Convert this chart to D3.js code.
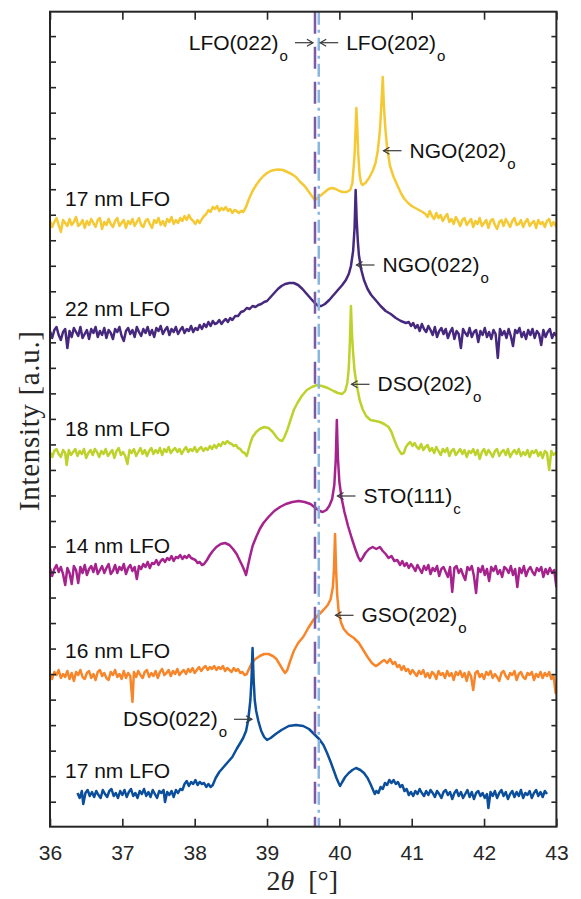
<!DOCTYPE html>
<html>
<head>
<meta charset="utf-8">
<script src="https://cdn.jsdelivr.net/npm/d3@7"></script>
<style>
  body { margin: 0; background: #fff; }
  text { font-family: "Liberation Sans", Arial, sans-serif; }
</style>
</head>
<body>
<svg id="chart" width="581" height="899"></svg>
<script>
// ---- data ----
var xTicks = [36, 37, 38, 39, 40, 41, 42, 43];
var samples = ["17 nm LFO", "22 nm LFO", "18 nm LFO", "14 nm LFO", "16 nm LFO", "17 nm LFO"];
var colors = ["#f4c934", "#46297e", "#bdd22b", "#a6238e", "#f7862a", "#0b4f9c"];
// vertical offset of every scan (a.u.)
var offsets = [603.7, 493.7, 373.7, 256.7, 151.7, 31.7];
// bulk LFO reflections (2theta)
var lfo022 = 39.663, lfo202 = 39.715;

// scans: [2theta, intensity above own offset]
var yellowScan = [[36.00,2],[36.03,-4],[36.06,1],[36.09,5],[36.12,-2],[36.15,-9],[36.18,3],[36.21,0],[36.24,-3],[36.27,4],[36.30,-2],[36.33,1],[36.36,6],[36.39,-3],[36.42,-1],[36.45,3],[36.48,-5],[36.51,2],[36.54,-2],[36.57,4],[36.60,0],[36.63,-4],[36.66,3],[36.69,5],[36.72,-6],[36.75,1],[36.78,-2],[36.81,4],[36.84,-1],[36.87,-4],[36.90,2],[36.93,5],[36.96,-3],[36.99,0],[37.02,3],[37.05,-5],[37.08,2],[37.11,-1],[37.14,4],[37.17,-3],[37.20,1],[37.23,5],[37.26,-2],[37.29,-4],[37.32,2],[37.35,4],[37.38,-1],[37.41,-5],[37.44,3],[37.47,0],[37.50,5],[37.53,-2],[37.56,2],[37.59,-3],[37.62,4],[37.65,1],[37.68,6],[37.71,-1],[37.74,3],[37.77,0],[37.80,5],[37.83,2],[37.86,7],[37.89,3],[37.92,8],[37.95,4],[37.98,2],[38.01,-1],[38.04,3],[38.07,0],[38.10,4],[38.13,7],[38.16,9],[38.19,13],[38.22,11],[38.25,16],[38.28,14],[38.31,17],[38.34,12],[38.37,15],[38.40,13],[38.43,16],[38.46,12],[38.49,14],[38.52,10],[38.55,13],[38.58,12],[38.61,10],[38.64,12],[38.67,11],[38.71,16],[38.75,24],[38.80,32],[38.85,38],[38.90,43],[38.95,47],[39.00,50],[39.05,52],[39.10,53],[39.16,53.5],[39.22,53],[39.28,51],[39.34,49],[39.40,46],[39.46,41],[39.52,37],[39.57,32],[39.62,27],[39.66,23],[39.70,25],[39.75,28],[39.80,31],[39.85,34],[39.90,35],[39.95,34],[40.00,32],[40.05,31],[40.10,31],[40.15,33],[40.18,40],[40.21,68],[40.225,95],[40.235,115],[40.245,100],[40.26,70],[40.28,48],[40.30,40],[40.32,38],[40.36,40],[40.41,45],[40.46,52],[40.50,60],[40.53,72],[40.56,92],[40.58,117],[40.60,146],[40.615,118],[40.635,95],[40.66,75],[40.70,57],[40.75,46],[40.80,38],[40.85,30],[40.90,24],[40.95,20],[41.00,17],[41.05,15],[41.10,13],[41.15,11],[41.19,9],[41.22,6],[41.25,12],[41.28,7],[41.31,4],[41.34,10],[41.37,5],[41.40,8],[41.43,2],[41.46,6],[41.49,9],[41.52,1],[41.55,4],[41.58,-1],[41.61,6],[41.64,2],[41.67,-3],[41.70,3],[41.73,5],[41.76,-2],[41.79,1],[41.82,4],[41.85,-4],[41.88,2],[41.91,-1],[41.94,5],[41.97,-3],[42.00,0],[42.03,3],[42.06,-5],[42.09,2],[42.12,4],[42.15,-2],[42.18,-6],[42.21,1],[42.24,3],[42.27,-3],[42.30,4],[42.33,0],[42.36,-4],[42.39,2],[42.42,5],[42.45,-2],[42.48,-1],[42.51,3],[42.54,-4],[42.57,1],[42.60,4],[42.63,-3],[42.66,0],[42.69,2],[42.72,-5],[42.75,3],[42.78,-1],[42.81,1],[42.84,-4],[42.87,2],[42.90,4],[42.93,-3],[42.96,1],[43.00,-4]];

var purpleScan = [[36.00,2],[36.03,-5],[36.06,3],[36.09,6],[36.12,-2],[36.15,-7],[36.18,1],[36.21,4],[36.24,-15],[36.27,2],[36.30,-4],[36.33,5],[36.36,1],[36.39,-3],[36.42,6],[36.45,-5],[36.48,-1],[36.51,3],[36.54,-6],[36.57,4],[36.60,0],[36.63,6],[36.66,-4],[36.69,2],[36.72,-2],[36.75,5],[36.78,-5],[36.81,3],[36.84,0],[36.87,-6],[36.90,4],[36.93,1],[36.96,6],[36.99,-3],[37.02,-8],[37.05,2],[37.08,5],[37.11,-1],[37.14,3],[37.17,-4],[37.20,6],[37.23,1],[37.26,-3],[37.29,4],[37.32,0],[37.35,6],[37.38,-2],[37.41,3],[37.44,-4],[37.47,5],[37.50,2],[37.53,7],[37.56,-1],[37.59,3],[37.62,6],[37.65,-2],[37.68,4],[37.71,1],[37.74,6],[37.77,-1],[37.80,3],[37.83,6],[37.86,0],[37.89,4],[37.92,2],[37.95,7],[37.98,1],[38.01,5],[38.04,3],[38.07,8],[38.10,4],[38.13,9],[38.16,6],[38.19,11],[38.22,7],[38.25,12],[38.28,9],[38.31,10],[38.34,13],[38.37,9],[38.40,12],[38.43,14],[38.46,11],[38.49,15],[38.52,13],[38.56,17],[38.60,17],[38.64,21],[38.68,22],[38.72,25],[38.76,24],[38.80,27],[38.84,26],[38.88,28],[38.92,29],[38.96,31],[39.00,32],[39.05,36],[39.10,40],[39.15,44],[39.20,47],[39.25,49],[39.31,50],[39.37,50],[39.43,48],[39.49,44],[39.55,39],[39.61,34],[39.66,30],[39.71,27],[39.75,27],[39.80,29],[39.86,33],[39.92,38],[39.98,43],[40.04,48],[40.09,53],[40.13,59],[40.16,67],[40.19,82],[40.21,105],[40.225,143],[40.24,112],[40.255,92],[40.27,78],[40.30,64],[40.34,53],[40.39,44],[40.44,38],[40.50,33],[40.57,27],[40.64,22],[40.71,19],[40.78,15],[40.85,12],[40.92,10],[40.96,11],[40.99,7],[41.02,10],[41.05,5],[41.08,8],[41.11,2],[41.14,9],[41.17,4],[41.20,1],[41.23,7],[41.26,3],[41.29,-2],[41.32,6],[41.35,-4],[41.38,2],[41.41,5],[41.44,-1],[41.47,4],[41.50,-5],[41.53,1],[41.56,5],[41.59,-6],[41.62,2],[41.65,-1],[41.68,-15],[41.71,4],[41.74,0],[41.77,-3],[41.80,5],[41.83,-4],[41.86,1],[41.89,3],[41.92,-9],[41.95,2],[41.98,-2],[42.01,5],[42.04,-4],[42.07,1],[42.10,-6],[42.13,3],[42.16,-1],[42.19,-25],[42.22,4],[42.25,-2],[42.28,2],[42.31,-5],[42.34,4],[42.37,-3],[42.40,-13],[42.43,3],[42.46,0],[42.49,5],[42.52,-4],[42.55,1],[42.58,-6],[42.61,3],[42.64,-2],[42.67,4],[42.70,-5],[42.73,2],[42.76,-1],[42.79,-12],[42.82,3],[42.85,-4],[42.88,1],[42.91,4],[42.94,-5],[42.97,0],[43.00,-3]];

var limeScan = [[36.00,1],[36.03,-4],[36.06,2],[36.09,4],[36.12,-1],[36.15,-4],[36.18,3],[36.21,0],[36.23,-12],[36.26,3],[36.29,-2],[36.32,1],[36.35,4],[36.38,-3],[36.41,2],[36.44,-1],[36.47,4],[36.50,-5],[36.53,0],[36.56,3],[36.59,-2],[36.62,4],[36.65,1],[36.68,-4],[36.71,2],[36.74,-1],[36.77,4],[36.80,-3],[36.83,0],[36.86,3],[36.89,-5],[36.92,2],[36.95,5],[36.98,-2],[37.01,1],[37.04,-3],[37.07,-11],[37.10,3],[37.13,0],[37.16,4],[37.19,-3],[37.22,1],[37.25,5],[37.28,-1],[37.31,3],[37.34,-3],[37.37,2],[37.40,5],[37.43,-1],[37.46,3],[37.49,0],[37.52,5],[37.55,-2],[37.58,4],[37.61,1],[37.64,6],[37.67,0],[37.70,3],[37.73,5],[37.76,1],[37.79,4],[37.82,-1],[37.85,3],[37.88,6],[37.91,1],[37.94,4],[37.97,2],[38.00,6],[38.03,1],[38.06,4],[38.09,6],[38.12,2],[38.15,5],[38.18,3],[38.21,7],[38.24,4],[38.27,8],[38.30,5],[38.33,9],[38.36,7],[38.39,11],[38.42,9],[38.45,12],[38.48,10],[38.51,9],[38.54,7],[38.57,8],[38.60,5],[38.63,4],[38.66,1],[38.69,0],[38.72,-3],[38.74,2],[38.77,10],[38.80,16],[38.85,21],[38.90,24],[38.96,26],[39.02,25],[39.08,21],[39.13,16],[39.17,13],[39.21,12],[39.24,16],[39.28,23],[39.32,32],[39.37,43],[39.42,50],[39.48,57],[39.55,63],[39.62,66],[39.69,68],[39.76,67],[39.84,65],[39.92,62],[39.98,60],[40.04,59],[40.08,62],[40.11,70],[40.13,85],[40.145,110],[40.16,147],[40.175,118],[40.19,100],[40.21,82],[40.24,68],[40.28,53],[40.32,44],[40.37,37],[40.43,33],[40.50,32],[40.56,31],[40.62,29],[40.68,26],[40.72,21],[40.76,13],[40.80,6],[40.83,2],[40.86,-1],[40.89,0],[40.92,6],[40.95,9],[40.98,11],[41.01,7],[41.04,10],[41.07,6],[41.10,4],[41.13,9],[41.16,3],[41.19,6],[41.22,8],[41.25,2],[41.28,5],[41.31,0],[41.34,6],[41.37,2],[41.40,-2],[41.43,4],[41.46,1],[41.49,5],[41.52,-3],[41.55,2],[41.58,4],[41.61,-2],[41.64,1],[41.67,4],[41.70,-1],[41.73,3],[41.76,-4],[41.79,2],[41.82,0],[41.85,4],[41.88,-2],[41.91,3],[41.94,-6],[41.97,1],[42.00,4],[42.03,-2],[42.06,3],[42.09,0],[42.12,-4],[42.15,2],[42.18,4],[42.21,-3],[42.24,1],[42.27,3],[42.30,-2],[42.33,4],[42.36,-4],[42.39,0],[42.42,3],[42.45,-1],[42.48,4],[42.51,-3],[42.54,1],[42.57,-2],[42.60,3],[42.63,-4],[42.66,2],[42.69,0],[42.72,3],[42.75,-3],[42.78,1],[42.81,-5],[42.84,2],[42.87,0],[42.90,-17],[42.93,2],[42.96,-2],[43.00,1]];

var magentaScan = [[36.00,2],[36.03,-6],[36.06,1],[36.09,5],[36.12,-2],[36.15,3],[36.18,-4],[36.21,-15],[36.24,2],[36.27,-3],[36.30,-14],[36.33,4],[36.36,0],[36.39,-13],[36.42,3],[36.45,-3],[36.48,5],[36.51,-5],[36.54,1],[36.57,4],[36.60,-2],[36.63,6],[36.66,-4],[36.69,0],[36.72,4],[36.75,-3],[36.78,2],[36.81,6],[36.84,-4],[36.87,-1],[36.90,5],[36.93,-3],[36.96,3],[36.99,0],[37.02,6],[37.05,-4],[37.08,2],[37.11,5],[37.14,-1],[37.17,3],[37.20,-9],[37.23,4],[37.26,1],[37.29,6],[37.32,3],[37.35,8],[37.38,2],[37.41,7],[37.44,6],[37.47,10],[37.50,5],[37.53,9],[37.56,11],[37.59,8],[37.62,12],[37.65,10],[37.68,14],[37.71,9],[37.74,13],[37.77,12],[37.80,15],[37.83,11],[37.86,14],[37.89,12],[37.92,15],[37.95,12],[37.98,11],[38.01,10],[38.04,7],[38.07,8],[38.10,5],[38.13,6],[38.17,10],[38.21,15],[38.25,19],[38.30,23],[38.36,26],[38.42,27],[38.48,25],[38.53,21],[38.58,16],[38.62,10],[38.66,4],[38.69,-1],[38.71,-5],[38.73,2],[38.76,12],[38.80,24],[38.85,33],[38.90,41],[38.95,47],[39.02,53],[39.10,59],[39.18,63],[39.26,66],[39.35,68],[39.44,69],[39.52,68],[39.60,66],[39.67,62],[39.73,59],[39.77,58],[39.82,60],[39.86,64],[39.90,71],[39.93,85],[39.95,110],[39.965,150],[39.98,112],[40.00,88],[40.03,72],[40.07,58],[40.12,44],[40.17,32],[40.22,21],[40.26,13],[40.29,9],[40.32,12],[40.36,17],[40.41,21],[40.46,23],[40.51,21],[40.56,23],[40.60,19],[40.64,16],[40.68,12],[40.72,14],[40.76,9],[40.80,10],[40.84,5],[40.87,9],[40.90,4],[40.93,7],[40.96,2],[40.99,6],[41.02,3],[41.05,-1],[41.08,5],[41.11,1],[41.14,-3],[41.17,4],[41.20,0],[41.23,5],[41.26,-4],[41.29,2],[41.32,-1],[41.35,4],[41.38,-6],[41.41,1],[41.44,3],[41.47,-2],[41.50,-7],[41.53,3],[41.56,-22],[41.59,2],[41.62,4],[41.65,-3],[41.68,1],[41.71,-5],[41.74,-10],[41.77,3],[41.80,0],[41.83,4],[41.86,-6],[41.89,-23],[41.92,2],[41.95,-2],[41.98,4],[42.01,-5],[42.04,1],[42.07,-11],[42.10,3],[42.13,-1],[42.16,4],[42.19,-4],[42.22,0],[42.25,-7],[42.28,3],[42.31,1],[42.34,-3],[42.37,4],[42.40,-5],[42.43,1],[42.46,-17],[42.49,2],[42.52,-3],[42.55,4],[42.58,-6],[42.61,0],[42.64,3],[42.67,-2],[42.70,-5],[42.73,2],[42.76,-1],[42.79,3],[42.82,-7],[42.85,1],[42.88,-4],[42.91,2],[42.94,-3],[42.97,0],[43.00,-17]];

var orangeScan = [[36.00,1],[36.03,-4],[36.06,3],[36.09,0],[36.12,5],[36.15,-3],[36.18,1],[36.21,-2],[36.24,4],[36.27,-4],[36.30,2],[36.33,-6],[36.36,3],[36.39,0],[36.42,5],[36.45,-2],[36.48,-4],[36.51,2],[36.54,4],[36.57,-3],[36.60,1],[36.63,-5],[36.66,3],[36.69,5],[36.72,-1],[36.75,2],[36.78,-3],[36.81,-5],[36.84,3],[36.87,0],[36.90,5],[36.93,-2],[36.96,1],[36.99,-4],[37.02,4],[37.05,-3],[37.08,2],[37.11,-1],[37.14,-27],[37.16,3],[37.19,-2],[37.22,4],[37.25,0],[37.28,-3],[37.31,3],[37.34,5],[37.37,-2],[37.40,2],[37.43,-1],[37.46,4],[37.49,-3],[37.52,3],[37.55,6],[37.58,0],[37.61,2],[37.64,5],[37.67,-1],[37.70,4],[37.73,1],[37.76,6],[37.79,0],[37.82,3],[37.85,5],[37.88,1],[37.91,6],[37.94,3],[37.97,7],[38.00,2],[38.03,5],[38.06,8],[38.09,4],[38.12,7],[38.15,9],[38.18,5],[38.21,8],[38.24,6],[38.27,9],[38.30,5],[38.33,8],[38.36,6],[38.39,9],[38.42,4],[38.45,7],[38.48,5],[38.51,3],[38.54,7],[38.57,4],[38.60,6],[38.63,2],[38.66,3],[38.69,0],[38.72,1],[38.75,6],[38.79,12],[38.84,16],[38.90,19],[38.96,21],[39.02,21],[39.08,19],[39.13,16],[39.18,10],[39.22,5],[39.25,2],[39.28,5],[39.32,14],[39.37,24],[39.43,32],[39.50,38],[39.57,47],[39.64,55],[39.71,60],[39.78,65],[39.84,70],[39.88,76],[39.91,88],[39.925,105],[39.94,141],[39.955,105],[39.97,80],[39.99,64],[40.02,53],[40.06,46],[40.12,41],[40.20,37],[40.27,32],[40.33,25],[40.39,18],[40.45,12],[40.50,9],[40.53,10],[40.58,13],[40.62,15],[40.66,12],[40.70,16],[40.74,11],[40.77,13],[40.80,8],[40.83,10],[40.86,5],[40.89,9],[40.92,4],[40.95,6],[40.98,1],[41.01,5],[41.04,2],[41.07,-1],[41.10,4],[41.13,1],[41.16,5],[41.19,-2],[41.22,2],[41.25,-3],[41.28,3],[41.31,1],[41.34,-4],[41.37,4],[41.40,0],[41.43,2],[41.46,-3],[41.49,4],[41.52,-1],[41.55,2],[41.58,-5],[41.61,3],[41.64,0],[41.67,4],[41.70,-2],[41.73,2],[41.76,-6],[41.79,3],[41.82,-1],[41.85,-15],[41.88,2],[41.91,4],[41.94,-2],[41.97,1],[42.00,-4],[42.03,3],[42.06,0],[42.09,4],[42.12,-3],[42.15,1],[42.18,-2],[42.21,-6],[42.24,2],[42.27,4],[42.30,-1],[42.33,-4],[42.36,2],[42.39,0],[42.42,4],[42.45,-5],[42.48,1],[42.51,3],[42.54,-2],[42.57,-4],[42.60,2],[42.63,0],[42.66,3],[42.69,-5],[42.72,1],[42.75,-2],[42.78,3],[42.81,-3],[42.84,2],[42.87,-1],[42.90,3],[42.93,-4],[42.96,-1],[42.99,-18],[43.00,-10]];

var blueScan = [[36.38,2],[36.41,-3],[36.44,4],[36.46,-9],[36.49,2],[36.52,5],[36.55,-1],[36.58,3],[36.61,-2],[36.64,4],[36.67,0],[36.70,-3],[36.73,5],[36.76,1],[36.79,-2],[36.82,4],[36.85,6],[36.88,-1],[36.91,2],[36.94,-3],[36.97,4],[37.00,0],[37.03,5],[37.06,-2],[37.09,3],[37.12,6],[37.15,-1],[37.18,2],[37.21,-3],[37.24,4],[37.27,1],[37.30,6],[37.33,-1],[37.36,3],[37.39,-2],[37.42,5],[37.45,1],[37.48,-3],[37.51,4],[37.54,2],[37.57,5],[37.59,-7],[37.62,3],[37.65,0],[37.68,4],[37.71,-2],[37.74,5],[37.77,2],[37.80,6],[37.83,5],[37.86,11],[37.89,14],[37.92,9],[37.95,13],[37.98,11],[38.01,15],[38.04,10],[38.07,13],[38.10,11],[38.13,12],[38.16,8],[38.19,11],[38.22,8],[38.25,10],[38.29,17],[38.34,23],[38.40,28],[38.46,33],[38.52,38],[38.58,46],[38.63,52],[38.67,57],[38.71,64],[38.74,75],[38.77,95],[38.785,115],[38.80,147],[38.815,115],[38.83,95],[38.85,84],[38.88,74],[38.92,64],[38.96,58],[39.00,55],[39.05,57],[39.12,61],[39.20,65],[39.30,69],[39.40,70],[39.50,69],[39.58,66],[39.65,61],[39.72,56],[39.78,50],[39.83,42],[39.88,33],[39.92,25],[39.96,17],[39.99,12],[40.01,9],[40.04,13],[40.08,18],[40.13,22],[40.18,25],[40.23,27],[40.29,25],[40.34,22],[40.39,17],[40.43,11],[40.46,6],[40.49,1],[40.51,4],[40.54,2],[40.57,8],[40.60,6],[40.63,12],[40.66,10],[40.69,15],[40.72,12],[40.75,15],[40.78,11],[40.81,13],[40.84,8],[40.87,10],[40.90,4],[40.93,6],[40.96,0],[40.99,3],[41.02,-1],[41.05,4],[41.08,1],[41.11,6],[41.14,2],[41.17,-1],[41.20,4],[41.23,0],[41.26,5],[41.29,2],[41.32,-2],[41.35,4],[41.38,1],[41.41,-3],[41.44,3],[41.47,5],[41.50,0],[41.53,3],[41.56,-4],[41.59,2],[41.62,5],[41.65,-1],[41.68,3],[41.71,-3],[41.74,1],[41.77,5],[41.80,-2],[41.83,3],[41.86,-4],[41.89,2],[41.92,4],[41.95,-1],[41.98,2],[42.01,-3],[42.04,1],[42.06,-13],[42.09,3],[42.12,-1],[42.15,4],[42.18,-3],[42.21,2],[42.24,5],[42.27,-1],[42.30,3],[42.33,-4],[42.36,1],[42.39,4],[42.42,-2],[42.45,3],[42.48,-1],[42.51,5],[42.54,-3],[42.57,2],[42.60,0],[42.63,4],[42.66,-3],[42.69,2],[42.72,5],[42.75,-1],[42.78,3],[42.81,-2],[42.84,4],[42.87,1]];

var scans = [yellowScan, purpleScan, limeScan, magentaScan, orangeScan, blueScan];

// peak labels: 2theta and level (a.u.) of the arrow tip, dir = side the arrow points to
var peakNotes = [
  { name: "NGO(202)", sub: "o", theta: 40.61,  level: 676,   dir: -1 },
  { name: "NGO(022)", sub: "o", theta: 40.237, level: 561.7, dir: -1 },
  { name: "DSO(202)", sub: "o", theta: 40.168, level: 442.4, dir: -1 },
  { name: "STO(111)", sub: "c", theta: 39.974, level: 330.7, dir: -1 },
  { name: "GSO(202)", sub: "o", theta: 39.947, level: 211.4, dir: -1 },
  { name: "DSO(022)", sub: "o", theta: 38.792, level: 107.4, dir: 1 },
  { name: "LFO(022)", sub: "o", theta: 39.635, level: 784,   dir: 1 },
  { name: "LFO(202)", sub: "o", theta: 39.735, level: 784,   dir: -1 }
];

// ---- layout ----
var W = 581, H = 899;
var margin = { top: 11.7, right: 24.6, bottom: 72.3, left: 50 };
var x = d3.scaleLinear().domain([36, 43]).range([margin.left, W - margin.right]);
var y = d3.scaleLinear().domain([0, 815]).range([H - margin.bottom, margin.top]);
var yTicks = d3.range(31).map(function(k) { return 25 + k * 25.52; });
var axisColor = "#262626";

var svg = d3.select("#chart");

svg.append("defs").append("clipPath").attr("id", "plotclip")
  .append("rect")
  .attr("x", x(36)).attr("y", y(815))
  .attr("width", x(43) - x(36)).attr("height", y(0) - y(815));

var plot = svg.append("g").attr("clip-path", "url(#plotclip)");

scans.forEach(function(scan, i) {
  var line = d3.line()
    .x(function(d) { return x(d[0]); })
    .y(function(d) { return y(d[1] + offsets[i]); });
  plot.append("path")
    .datum(scan)
    .attr("d", line)
    .attr("fill", "none")
    .attr("stroke", colors[i])
    .attr("stroke-width", 2.5)
    .attr("stroke-linejoin", "round");
});

// bulk LFO positions
plot.append("line")
  .attr("x1", x(lfo022)).attr("x2", x(lfo022))
  .attr("y1", y(815)).attr("y2", y(0))
  .attr("stroke", "#7a5ba4").attr("stroke-width", 2.5)
  .attr("stroke-dasharray", "22,13");
plot.append("line")
  .attr("x1", x(lfo202)).attr("x2", x(lfo202))
  .attr("y1", y(815)).attr("y2", y(0))
  .attr("stroke", "#8ab7e2").attr("stroke-width", 2.5)
  .attr("stroke-dasharray", "13,5,3,5");

// sample labels
samples.forEach(function(s, i) {
  svg.append("text")
    .attr("x", 65)
    .attr("y", y(offsets[i]) - 17)
    .attr("font-size", 21)
    .attr("fill", "#111")
    .text(s);
});

// peak arrows + labels
peakNotes.forEach(function(p) {
  var tx = x(p.theta), ty = y(p.level);
  var tail = tx - p.dir * 18;
  var g = svg.append("g").attr("stroke", "#3a3a3a").attr("stroke-width", 1.2).attr("fill", "none");
  g.append("line").attr("x1", tail).attr("y1", ty).attr("x2", tx).attr("y2", ty);
  g.append("path")
    .attr("d", "M" + (tx - p.dir * 6) + "," + (ty - 3.5) + "L" + tx + "," + ty + "L" + (tx - p.dir * 6) + "," + (ty + 3.5));
  var t = svg.append("text")
    .attr("y", ty + 7)
    .attr("font-size", 21)
    .attr("fill", "#111");
  if (p.dir < 0) t.attr("x", tail + 8).attr("text-anchor", "start");
  else t.attr("x", tail - 7).attr("text-anchor", "end");
  t.append("tspan").text(p.name);
  t.append("tspan").attr("dy", 11).attr("dx", 1).attr("font-size", 15).text(p.sub);
});

// ---- axes ----
var axBottom = svg.append("g")
  .attr("transform", "translate(0," + y(0) + ")")
  .call(d3.axisBottom(x).tickValues(xTicks).tickSize(-8).tickSizeOuter(0).tickPadding(18)
    .tickFormat(d3.format("d")));
var axTop = svg.append("g")
  .attr("transform", "translate(0," + y(815) + ")")
  .call(d3.axisTop(x).tickValues(xTicks).tickSize(-8).tickSizeOuter(0).tickFormat(""));
var axLeft = svg.append("g")
  .attr("transform", "translate(" + x(36) + ",0)")
  .call(d3.axisLeft(y).tickValues(yTicks).tickSize(-6).tickSizeOuter(0).tickFormat(""));
var axRight = svg.append("g")
  .attr("transform", "translate(" + x(43) + ",0)")
  .call(d3.axisRight(y).tickValues(yTicks).tickSize(-5).tickSizeOuter(0).tickFormat(""));

[axBottom, axTop, axLeft, axRight].forEach(function(a) {
  a.select(".domain").remove();
  a.selectAll(".tick line").attr("stroke", axisColor).attr("stroke-width", 1.6);
});
axBottom.selectAll(".tick text")
  .attr("font-size", 21)
  .attr("font-family", "Liberation Sans, Arial, sans-serif")
  .attr("fill", axisColor);

svg.append("rect")
  .attr("x", x(36)).attr("y", y(815))
  .attr("width", x(43) - x(36)).attr("height", y(0) - y(815))
  .attr("fill", "none").attr("stroke", axisColor).attr("stroke-width", 2);

// axis titles
var xt = svg.append("text")
  .attr("x", (x(36) + x(43)) / 2 - 1)
  .attr("y", 890)
  .attr("text-anchor", "middle")
  .attr("font-size", 28)
  .style("font-family", "'Liberation Serif', 'DejaVu Serif', serif")
  .attr("fill", axisColor);
xt.append("tspan").text("2");
xt.append("tspan").attr("font-style", "italic").text("\u03b8");
xt.append("tspan").text("\u2002[\u00b0]");

svg.append("text")
  .attr("transform", "translate(39,421) rotate(-90)")
  .attr("text-anchor", "middle")
  .attr("font-size", 29)
  .attr("textLength", 180)
  .attr("lengthAdjust", "spacing")
  .style("font-family", "'Liberation Serif', 'DejaVu Serif', serif")
  .attr("fill", axisColor)
  .text("Intensity [a.u.]");
</script>
</body>
</html>
